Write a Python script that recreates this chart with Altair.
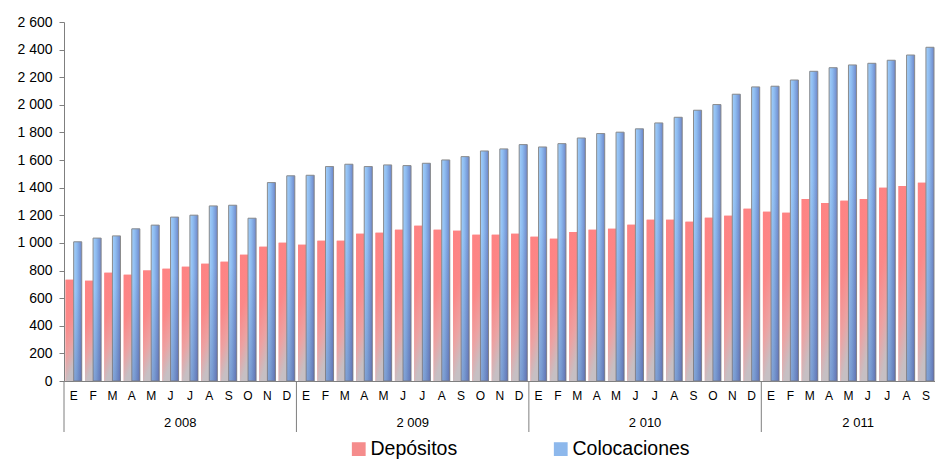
import altair as alt
import pandas as pd

months = ["E", "F", "M", "A", "M", "J", "J", "A", "S", "O", "N", "D"]
years = ["2 008", "2 009", "2 010", "2 011"]
series_names = ["Depósitos", "Colocaciones"]

depositos = [
    733, 726, 784, 769, 800, 813, 827, 849, 863, 914, 972, 1001,
    986, 1015, 1015, 1066, 1073, 1095, 1124, 1095, 1088, 1059, 1059, 1066,
    1044, 1030, 1080, 1095, 1102, 1131, 1167, 1167, 1153, 1182, 1196, 1247,
    1225, 1218, 1319, 1290, 1305, 1319, 1399, 1413, 1435, 1384,
]
colocaciones = [
    1008, 1035, 1051, 1102, 1129, 1187, 1201, 1268, 1273, 1179, 1437, 1486,
    1490, 1553, 1570, 1553, 1565, 1560, 1577, 1601, 1625, 1666, 1681, 1712,
    1695, 1719, 1760, 1792, 1802, 1826, 1869, 1910, 1961, 2002, 2077, 2130,
    2135, 2180, 2243, 2269, 2289, 2301, 2323, 2361, 2417, 2450,
]

n = len(depositos)
idx = list(range(n))
rows = []
for i in idx:
    rows.append({"idx": i, "series": series_names[0], "value": depositos[i]})
    rows.append({"idx": i, "series": series_names[1], "value": colocaciones[i]})
df = pd.DataFrame(rows)

# year label sits at the middle of the months that year has
year_starts = [12 * k for k in range(len(years))]
year_counts = [min(12, n - s) for s in year_starts]
year_df = pd.DataFrame({
    "idx": [s + c // 2 for s, c in zip(year_starts, year_counts)],
    "label": years,
})
sep_df = pd.DataFrame({"idx": year_starts})

FONT = "Liberation Sans"
AXIS_COLOR = "#7f7f7f"
PLOT_W = 871
PLOT_H = 359
FULL_W = 891  # range spanning all months (last one runs past the page edge)

month_expr = "[" + ",".join("'%s'" % m for m in months) + "][datum.value % 12]"

x_axis = alt.Axis(
    title=None, labelExpr=month_expr, labelAngle=0, ticks=False,
    labelPadding=9, labelFontSize=12, labelFont=FONT, labelColor="#000000",
    domainColor=AXIS_COLOR, labelOverlap=False,
)
xscale = alt.Scale(domain=idx, range=[0, FULL_W], paddingInner=0, paddingOuter=0)
X = alt.X("idx:O", scale=xscale, axis=x_axis)
X0 = alt.X("idx:O", scale=xscale, axis=x_axis, bandPosition=0)
XO = alt.XOffset("series:N", scale=alt.Scale(domain=series_names, paddingInner=0, paddingOuter=0.2))
Y = alt.Y(
    "value:Q",
    scale=alt.Scale(domain=[0, 2600], nice=False),
    axis=alt.Axis(
        title=None, values=list(range(0, 2601, 200)), grid=False,
        labelExpr="replace(format(datum.value, ','), ',', ' ')",
        labelFontSize=14, labelFont=FONT, labelColor="#000000", labelPadding=7,
        tickSize=5, tickColor=AXIS_COLOR, domainColor=AXIS_COLOR,
    ),
)

pink_grad = alt.Gradient(
    gradient="linear", x1=0, y1=0, x2=0.2, y2=1,
    stops=[
        alt.GradientStop(color="#ff8282", offset=0),
        alt.GradientStop(color="#fb8888", offset=0.45),
        alt.GradientStop(color="#eca2a2", offset=0.75),
        alt.GradientStop(color="#c6bfc3", offset=1),
    ],
)
blue_grad = alt.Gradient(
    gradient="linear", x1=0, y1=0, x2=1, y2=0,
    stops=[
        alt.GradientStop(color="#a3cffa", offset=0),
        alt.GradientStop(color="#8dbbf0", offset=0.4),
        alt.GradientStop(color="#7898d6", offset=0.8),
        alt.GradientStop(color="#6a7fc2", offset=1),
    ],
)
shade_grad = alt.Gradient(
    gradient="linear", x1=0, y1=0, x2=0, y2=1,
    stops=[
        alt.GradientStop(color="rgba(60,60,120,0)", offset=0),
        alt.GradientStop(color="rgba(60,60,120,0)", offset=0.35),
        alt.GradientStop(color="rgba(60,60,120,0.28)", offset=1),
    ],
)

base = alt.Chart(df).mark_bar().encode(
    x=X, xOffset=XO, y=Y,
    color=alt.Color(
        "series:N",
        scale=alt.Scale(domain=series_names, range=["#f58c8c", "#8db8ec"]),
        legend=alt.Legend(
            title=None, orient="none", direction="horizontal", columns=2,
            legendX=285, legendY=417, symbolType="square", symbolSize=190,
            symbolStrokeWidth=0, labelFontSize=19.5, labelFont=FONT,
            labelColor="#000000", labelOffset=2, columnPadding=93, padding=0,
        ),
    ),
)

pink = alt.Chart(df).transform_filter(
    alt.datum.series == series_names[0]
).mark_bar(fill=pink_grad).encode(x=X, xOffset=XO, y=Y)

blue = alt.Chart(df).transform_filter(
    alt.datum.series == series_names[1]
).mark_bar(fill=blue_grad, stroke="#8c8c8c", strokeWidth=1).encode(x=X, xOffset=XO, y=Y)

shade = alt.Chart(df).transform_filter(
    alt.datum.series == series_names[1]
).mark_bar(fill=shade_grad).encode(x=X, xOffset=XO, y=Y)

seps = alt.Chart(sep_df).mark_rule(color=AXIS_COLOR, strokeWidth=1).encode(
    x=X0, y=alt.value(PLOT_H), y2=alt.value(PLOT_H + 51)
)

year_text = alt.Chart(year_df).mark_text(
    font=FONT, fontSize=13, color="#000000", baseline="middle", align="center"
).encode(x=X0, y=alt.value(PLOT_H + 42), text="label:N")

chart = alt.layer(base, pink, blue, shade, seps, year_text).properties(
    width=PLOT_W, height=PLOT_H,
    autosize=alt.AutoSizeParams(type="none"),
    padding={"left": 56, "top": 14, "right": 0, "bottom": 79},
).configure_view(stroke=None)

chart.save("out.html", embed_options={"renderer": "svg", "actions": False})
